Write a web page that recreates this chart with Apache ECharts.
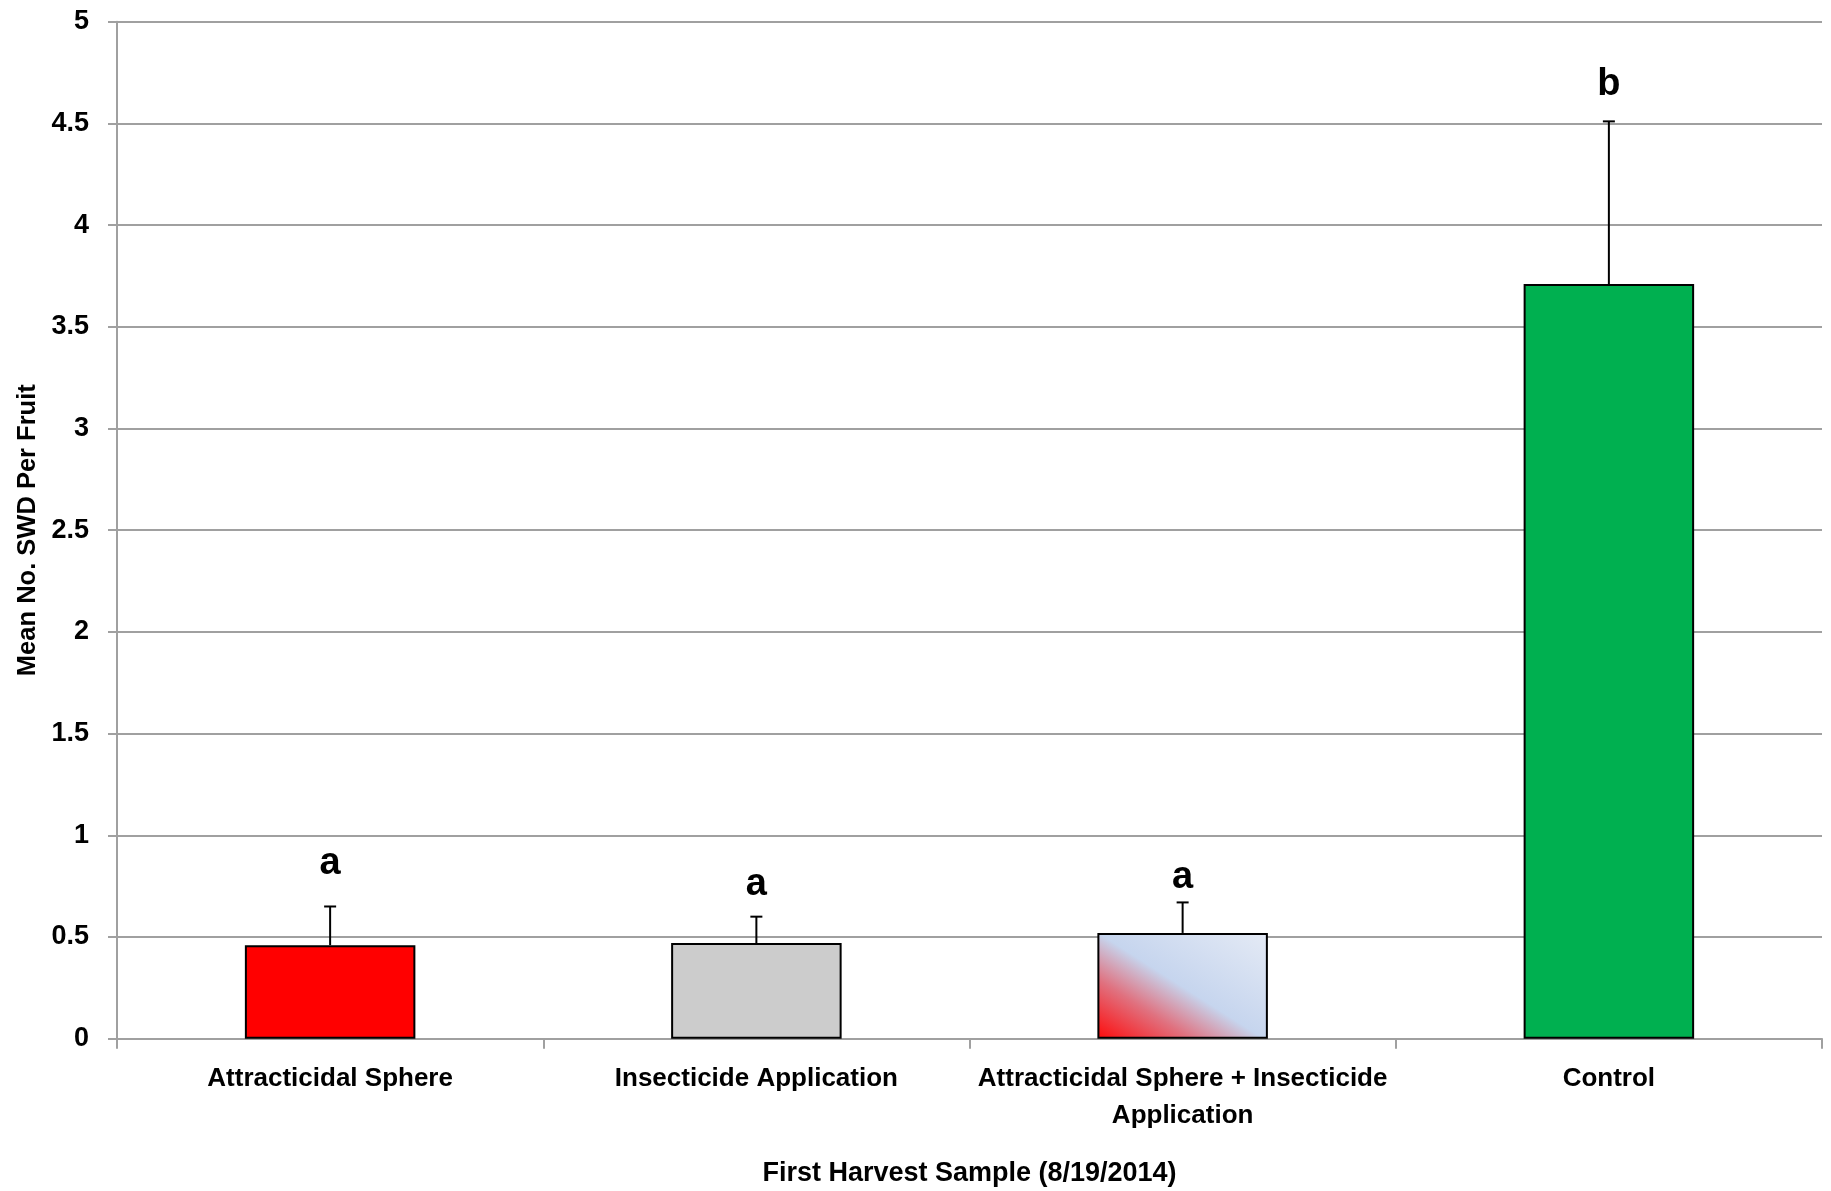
<!DOCTYPE html>
<html>
<head>
<meta charset="utf-8">
<script src="https://cdn.jsdelivr.net/npm/echarts@6/dist/echarts.min.js"></script>
<style>html,body{margin:0;padding:0;background:#fff}#c{width:1831px;height:1191px}</style>
</head>
<body>
<div id="c"></div>
<script>
const categories = ['Attracticidal Sphere', 'Insecticide Application', 'Attracticidal Sphere + Insecticide\nApplication', 'Control'];
const means = [0.46, 0.47, 0.52, 3.71];
const errors = [0.19, 0.13, 0.15, 0.80];
const letters = ['a', 'a', 'a', 'b'];
const letterY = [0.86, 0.76, 0.79, 4.69];
const yTicks = { min: 0, max: 5, interval: 0.5 };

const FONT = "'Liberation Sans', Arial, sans-serif";
const barColors = [
  '#ff0000',
  '#cccccc',
  { type: 'linear', x: 0, y: 1, x2: 0.567, y2: -0.43, colorStops: [
    { offset: 0, color: '#ff0a0a' },
    { offset: 0.28, color: '#e0717f' },
    { offset: 0.5, color: '#c6d5ee' },
    { offset: 1, color: '#e4eaf5' }
  ] },
  '#00b050'
];

const chart = echarts.init(document.getElementById('c'), null, { renderer: 'canvas' });
chart.setOption({
  animation: false,
  backgroundColor: '#ffffff',
  grid: { left: 117, right: 9, top: 21.7, bottom: 152.3, containLabel: false, outerBoundsMode: 'none' },
  xAxis: {
    type: 'category',
    data: categories,
    name: 'First Harvest Sample (8/19/2014)',
    nameLocation: 'middle',
    nameGap: 121,
    nameTextStyle: { fontFamily: FONT, fontWeight: 'bold', fontSize: 27, color: '#000' },
    axisLine: { lineStyle: { color: '#a0a0a0', width: 2 } },
    axisTick: { show: true, length: 10, lineStyle: { color: '#a0a0a0', width: 2 } },
    axisLabel: { fontFamily: FONT, fontWeight: 'bold', fontSize: 26, color: '#000', margin: 22, lineHeight: 37, interval: 0 }
  },
  yAxis: {
    type: 'value',
    min: yTicks.min, max: yTicks.max, interval: yTicks.interval,
    name: 'Mean No. SWD Per Fruit',
    nameLocation: 'middle',
    nameGap: 70,
    nameRotate: 90,
    nameTextStyle: { fontFamily: FONT, fontWeight: 'bold', fontSize: 25.5, color: '#000' },
    axisLine: { show: true, lineStyle: { color: '#a0a0a0', width: 2 } },
    axisTick: { show: true, length: 9, lineStyle: { color: '#a0a0a0', width: 2 } },
    axisLabel: { fontFamily: FONT, fontWeight: 'bold', fontSize: 27, color: '#000', margin: 28 },
    splitLine: { show: true, lineStyle: { color: '#a0a0a0', width: 2 } }
  },
  series: [
    {
      type: 'bar',
      barWidth: '40%',
      data: means.map((v, i) => ({ value: v, itemStyle: { color: barColors[i] } })),
      itemStyle: { borderColor: '#000', borderWidth: 2 },
      z: 2
    },
    {
      type: 'custom',
      z: 3,
      data: means.map((m, i) => [i, m, m + errors[i]]),
      renderItem: function (params, api) {
        const x = api.value(0);
        const lo = api.coord([x, api.value(1)]);
        const hi = api.coord([x, api.value(2)]);
        const cap = 6;
        return {
          type: 'group',
          children: [
            { type: 'line', shape: { x1: lo[0], y1: lo[1], x2: hi[0], y2: hi[1] }, style: { stroke: '#000', lineWidth: 2 } },
            { type: 'line', shape: { x1: hi[0] - cap, y1: hi[1], x2: hi[0] + cap, y2: hi[1] }, style: { stroke: '#000', lineWidth: 2 } }
          ]
        };
      }
    },
    {
      type: 'custom',
      z: 4,
      data: letterY.map((v, i) => [i, v]),
      renderItem: function (params, api) {
        const p = api.coord([api.value(0), api.value(1)]);
        return {
          type: 'text',
          x: p[0], y: p[1],
          style: {
            text: letters[params.dataIndex],
            fill: '#000',
            font: "bold 38px 'Liberation Sans', Arial, sans-serif",
            align: 'center',
            verticalAlign: 'middle'
          }
        };
      }
    }
  ]
});
</script>
</body>
</html>
